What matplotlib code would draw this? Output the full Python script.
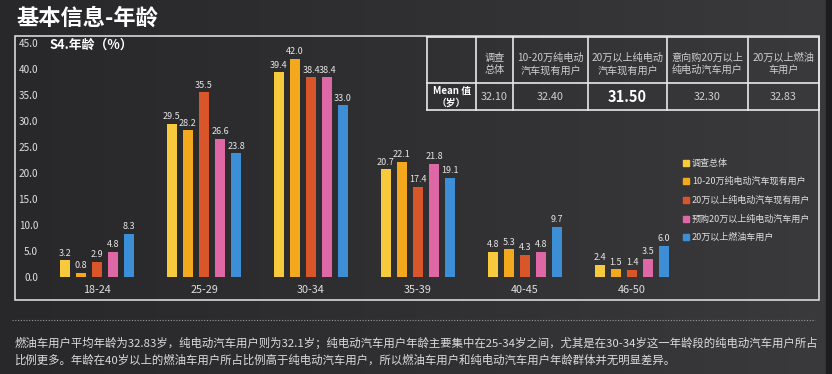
import numpy as np
import matplotlib
matplotlib.use("Agg")
import matplotlib.pyplot as plt
from matplotlib.colors import LinearSegmentedColormap
from matplotlib.patches import Rectangle
from matplotlib.lines import Line2D

plt.rcParams["font.family"] = ["Noto Sans CJK SC", "DejaVu Sans"]

# ---- data ----
age_groups = ["18-24", "25-29", "30-34", "35-39", "40-45", "46-50"]
series_names = ["调查总体", "10-20万纯电动汽车现有用户", "20万以上纯电动汽车现有用户",
                "预购20万以上纯电动汽车用户", "20万以上燃油车用户"]
total = [3.2, 29.5, 39.4, 20.7, 4.8, 2.4]
ev_10_20 = [0.8, 28.2, 42.0, 22.1, 5.3, 1.5]
ev_20_plus = [2.9, 35.5, 38.4, 17.4, 4.3, 1.4]
prebuy_ev = [4.8, 26.6, 38.4, 21.8, 4.8, 3.5]
fuel_20_plus = [8.3, 23.8, 33.0, 19.1, 9.7, 6.0]
colors = ["#F6CA3C", "#F4A81D", "#D9562A", "#DE68A6", "#3C8FD6"]

table_header = ["调查\n总体", "10-20万纯电动\n汽车现有用户", "20万以上纯电动\n汽车现有用户",
                "意向购20万以上\n纯电动汽车用户", "20万以上燃油\n车用户"]
mean_age = ["32.10", "32.40", "31.50", "32.30", "32.83"]

note = ("燃油车用户平均年龄为32.83岁，纯电动汽车用户则为32.1岁；纯电动汽车用户年龄主要集中在25-34岁之间，尤其是在30-34岁这一年龄段的纯电动汽车用户所占\n"
        "比例更多。年龄在40岁以上的燃油车用户所占比例高于纯电动汽车用户，所以燃油车用户和纯电动汽车用户年龄群体并无明显差异。")

W, H = 832, 374
fig = plt.figure(figsize=(W / 100, H / 100), dpi=100)

# background gradient, drawn in pixel coordinates
bg = fig.add_axes([0, 0, 1, 1])
grad = np.linspace(0, 1, 256)[None, :]
cm = LinearSegmentedColormap.from_list("bg", ["#28282b", "#303033", "#3a3a3d"])
bg.imshow(grad, aspect="auto", cmap=cm, extent=[0, W, H, 0])
bg.add_patch(Rectangle((826, 0), 6, H, color="#1d1d1f"))
bg.set_xlim(0, W)
bg.set_ylim(H, 0)
bg.axis("off")


def fx(px):
    return px / W


def fy(py):
    return 1 - py / H


# title
fig.text(fx(16), fy(18), "基本信息-年龄", color="white", fontsize=16, fontweight="bold",
         va="center", ha="left")

# frame
bg.add_patch(Rectangle((15, 36), 804, 264, fill=False, ec="#d8d8d8", lw=1.2))

# bar chart axes: y=0 at px 277, y=45 at px 43; category i at px 97 + 107*i
ax_l, ax_r, ax_t, ax_b = 45, 818, 43, 277
ax = fig.add_axes([fx(ax_l), fy(ax_b), (ax_r - ax_l) / W, (ax_b - ax_t) / H])
ax.set_facecolor("none")
ax.set_xlim((ax_l - 97) / 107, (ax_r - 97) / 107)
ax.set_ylim(0, 45)

x = np.arange(len(age_groups))
step, width = 0.15, 0.095
all_series = [total, ev_10_20, ev_20_plus, prebuy_ev, fuel_20_plus]
for k, (vals, c, name) in enumerate(zip(all_series, colors, series_names)):
    pos = x + (k - 2) * step
    ax.bar(pos, vals, width=width, color=c, label=name, zorder=3)
    for p, v in zip(pos, vals):
        ax.text(p, v + 0.5, f"{v:.1f}", ha="center", va="bottom", color="#e6e6e6",
                fontsize=6.5, zorder=4)

ax.set_xticks(x)
ax.set_xticklabels(age_groups)
ax.set_yticks(np.arange(0, 46, 5))
ax.set_yticklabels([f"{t:.1f}" for t in np.arange(0, 46, 5)])
ax.tick_params(axis="both", length=0, colors="#e0e0e0", labelsize=7.2)
ax.tick_params(axis="y", pad=5)
ax.tick_params(axis="x", pad=6, labelsize=7.8)
for s in ax.spines.values():
    s.set_visible(False)

fig.text(fx(50), fy(45), "S4.年龄（%）", color="white", fontsize=9.3, fontweight="bold",
         va="center", ha="left")

# legend
leg_y = [163, 181, 200, 219, 237]
for name, c, py in zip(series_names, colors, leg_y):
    bg.add_patch(Rectangle((683, py - 3), 6, 6, color=c))
    fig.text(fx(692), fy(py), name, color="#e0e0e0", fontsize=6.5, va="center", ha="left")

# mean table
col_x = [427, 476, 513, 588, 667, 748, 819]
row_y = [37, 83, 110]
tc = "#e8e8e8"
for cx in col_x:
    bg.plot([cx, cx], [row_y[0], row_y[-1]], color=tc, lw=1.2)
for ry in row_y:
    bg.plot([col_x[0], col_x[-1]], [ry, ry], color=tc, lw=1.2)
fig.text(fx((col_x[0] + col_x[1]) / 2), fy((row_y[1] + row_y[2]) / 2), "Mean 值\n（岁）",
         color="white", fontsize=7, fontweight="bold", style="italic",
         ha="center", va="center", linespacing=1.2)
for i, (hd, mv) in enumerate(zip(table_header, mean_age)):
    cx = (col_x[i + 1] + col_x[i + 2]) / 2
    fig.text(fx(cx), fy((row_y[0] + row_y[1]) / 2 + 4), hd, color="#cfcfcf", fontsize=7.3,
             style="italic", ha="center", va="center", linespacing=1.3)
    bold = mv == "31.50"
    fig.text(fx(cx), fy((row_y[1] + row_y[2]) / 2), mv, color="white" if bold else "#cfcfcf",
             fontsize=10.5 if bold else 7.8, fontweight="bold" if bold else "normal",
             style="italic", ha="center", va="center")

# dotted separator and note
bg.add_line(Line2D([12, 815], [320, 320], color="#9a9a9a", lw=0.8, ls=(0, (1, 1.5))))
fig.text(fx(15), fy(351), note, color="#dcdcdc", fontsize=8.2, ha="left", va="center",
         linespacing=1.6)

fig.savefig("out.png", dpi=100, facecolor=fig.get_facecolor())
